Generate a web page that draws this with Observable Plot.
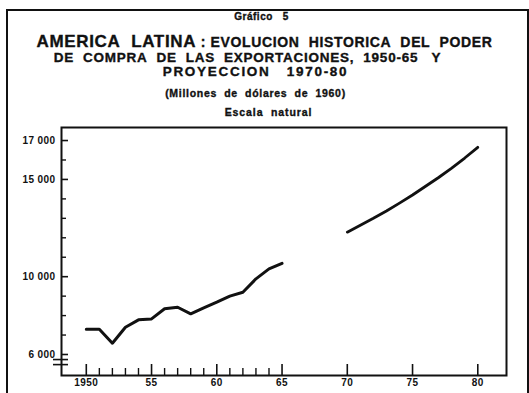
<!DOCTYPE html>
<html>
<head>
<meta charset="utf-8">
<script src="https://cdn.jsdelivr.net/npm/d3@7"></script>
<script src="https://cdn.jsdelivr.net/npm/@observablehq/plot@0.6"></script>
<style>
  html, body { margin: 0; padding: 0; background: #fff; }
  #page { position: relative; width: 529px; height: 393px; overflow: hidden; background: #fff;
          font-family: "Liberation Sans", "DejaVu Sans", sans-serif; font-weight: bold; color: #111; }
  #border { position: absolute; left: 6px; top: 9px; width: 519px; height: 500px;
            border: 2px solid #111; border-bottom: none; }
  .t { position: absolute; left: 0; width: 529px; text-align: center; white-space: nowrap; line-height: 1;
       -webkit-text-stroke: 0.35px #111; }
  #chart { position: absolute; left: 0; top: 120px; }
</style>
</head>
<body>
<div id="page">
  <div id="border"></div>
  <div class="t" style="top:12px; font-size:10px; letter-spacing:0.5px; left:-3px;">Gráfico&nbsp;&nbsp; 5</div>
  <div class="t" style="top:33px; font-size:14px; letter-spacing:0.65px; left:0px;"><span style="font-size:17px;">AMERICA&nbsp; LATINA</span> : EVOLUCION&nbsp; HISTORICA&nbsp; DEL&nbsp; PODER</div>
  <div class="t" style="top:51px; font-size:13.5px; letter-spacing:0.75px; left:-17px;">DE&nbsp; COMPRA&nbsp; DE&nbsp; LAS&nbsp; EXPORTACIONES,&nbsp; 1950-65&nbsp;&nbsp; Y</div>
  <div class="t" style="top:65px; font-size:13.5px; letter-spacing:1.7px; left:-9px;">PROYECCION&nbsp;&nbsp; 1970-80</div>
  <div class="t" style="top:88px; font-size:10.5px; letter-spacing:0.7px; left:-9px;">(Millones&nbsp; de&nbsp; dólares&nbsp; de&nbsp; 1960)</div>
  <div class="t" style="top:107px; font-size:10.5px; letter-spacing:0.9px; left:4px;">Escala&nbsp; natural</div>
  <div id="chart"></div>
</div>
<script>
// Historical series 1950-65 (millions of 1960 dollars)
const years1 = [1950, 1951, 1952, 1953, 1954, 1955, 1956, 1957, 1958, 1959, 1960, 1961, 1962, 1963, 1964, 1965];
const values1 = [7300, 7300, 6580, 7400, 7780, 7830, 8350, 8430, 8090, 8400, 8690, 9000, 9200, 9890, 10400, 10690];
// Projection 1970-80
const years2 = [1970, 1971, 1972, 1973, 1974, 1975, 1976, 1977, 1978, 1979, 1980];
const values2 = [12290, 12650, 13000, 13380, 13780, 14200, 14650, 15100, 15580, 16100, 16650];

// Axis ticks and labels
const yMajor = [6000, 10000, 15000, 17000];
const yMajorLabels = ["6 000", "10 000", "15 000", "17 000"];
const yMinor = [7000, 8000, 9000, 11000, 12000, 13000, 14000, 16000];
const xMajor = [1950, 1955, 1960, 1965, 1970, 1975, 1980];
const xMajorLabels = ["1950", "55", "60", "65", "70", "75", "80"];
const xMinor = [1951, 1952, 1953, 1954, 1956, 1957, 1958, 1959, 1961, 1962, 1963, 1964];
const axisBreak = [5740, 5480];

const hist = years1.map((y, i) => ({year: y, value: values1[i]}));
const proj = years2.map((y, i) => ({year: y, value: values2[i]}));
const yLab = new Map(yMajor.map((v, i) => [v, yMajorLabels[i]]));
const xLab = new Map(xMajor.map((v, i) => [v, xMajorLabels[i]]));

const W = 529, H = 273, ML = 61, MR = 23;

const chart = Plot.plot({
  width: W,
  height: H,
  marginLeft: ML,
  marginRight: MR,
  marginTop: 7,
  marginBottom: 18,
  style: {fontFamily: "Liberation Sans, DejaVu Sans, sans-serif", fontWeight: "bold", fontSize: "10px", letterSpacing: "0.4px", color: "#111", background: "transparent"},
  x: {domain: [1948.1, 1982.2], label: null},
  y: {domain: [4920, 17670], label: null},
  marks: [
    Plot.frame({stroke: "#111", strokeWidth: 2}),
    Plot.axisY(yMajor, {tickSize: -7, strokeWidth: 1.6, tickFormat: () => "", label: null}),
    Plot.axisY(yMinor, {tickSize: -5, strokeWidth: 1.4, tickFormat: () => "", label: null}),
    Plot.axisY(yMajor, {tickSize: 0, tickPadding: 6, tickFormat: d => yLab.get(d), label: null, stroke: "#111", strokeWidth: 0.3}),
    Plot.axisX(xMajor, {tickSize: -11, strokeWidth: 1.6, tickFormat: () => "", label: null}),
    Plot.axisX(xMinor, {tickSize: -7, strokeWidth: 1.4, tickFormat: () => "", label: null}),
    Plot.axisX(xMajor, {tickSize: 0, tickPadding: 3, tickFormat: d => xLab.get(d), label: null, stroke: "#111", strokeWidth: 0.3}),
    Plot.tickY(axisBreak, {y: d => d, insetLeft: -8, insetRight: (W - ML - MR) - 7, stroke: "#111", strokeWidth: 1.6, clip: false}),
    Plot.line(hist, {x: "year", y: "value", stroke: "#111", strokeWidth: 3, strokeLinejoin: "round", strokeLinecap: "round"}),
    Plot.line(proj, {x: "year", y: "value", stroke: "#111", strokeWidth: 2.8, strokeLinejoin: "round", strokeLinecap: "round"})
  ]
});
document.getElementById("chart").appendChild(chart);
</script>
</body>
</html>
